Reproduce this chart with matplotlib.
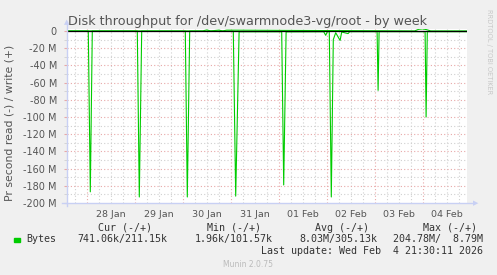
import numpy as np
import matplotlib
matplotlib.use("Agg")
import matplotlib.pyplot as plt
from matplotlib.ticker import MultipleLocator

# hours since 28 Jan 00:00, values in M bytes per second
read_hours = [-10, 0.8, 1.8, 2.8, 25.3, 26.3, 27.5, 49.3, 50.3, 51.5,
              73.3, 74.5, 76.2, 97.5, 98.5, 99.7, 118.5, 119.5, 120.3,
              121.3, 122.3, 123.3, 124.5, 126.7, 127.5, 130.7, 131.5,
              145.2, 145.7, 146.2, 169.2, 169.7, 170.3, 190]
read_values = [0.1, 0.1, 187, 0.1, 0.1, 193, 0.2, 0.2, 193, 0.2,
               0.2, 192, 0.9, 0.9, 179, 1.0, 0.9, 5, 0.8,
               0.8, 193, 10, 2, 11, 1.2, 3, 0.8,
               0.8, 69, 0.8, 0.8, 100, 0.8, 0.8]

write_hours = [-10, 58, 60, 62, 66, 68, 70, 164, 166, 168, 170, 172, 190]
write_values = [0.1, 0.1, 1.2, 0.1, 1.0, 0.1, 1.0, 0.1, 2.0, 2.5, 1.5, 0.1, 0.1]

day_labels = ["28 Jan", "29 Jan", "30 Jan", "31 Jan", "01 Feb", "02 Feb",
              "03 Feb", "04 Feb"]
y_ticks = [0, -20, -40, -60, -80, -100, -120, -140, -160, -180, -200]

title = "Disk throughput for /dev/swarmnode3-vg/root - by week"

W, H = 497, 275
fig = plt.figure(figsize=(W / 100, H / 100), dpi=100, facecolor="#f0f0f0")


def px(x, y):
    # pixel position -> figure fraction
    return x / W, 1 - y / H


ax_left, ax_right, ax_bottom = 66.7, 466.7, 203.0
ymin, ymax = -200, 2.8
ax_top = ax_bottom - (ymax - ymin) * 0.86
ax = fig.add_axes([ax_left / W, 1 - ax_bottom / H, (ax_right - ax_left) / W,
                   (ax_bottom - ax_top) / H])
ax.set_facecolor("white")
ax.set_xlim(-10, 190)
ax.set_ylim(ymin, ymax)
for s in ax.spines.values():
    s.set_visible(False)

# grid: grey every 6h / 10M, red every day / 20M
dot = (0, (1, 2))
for h in range(-6, 190, 6):
    col = "#e8a8a8" if h % 24 == 0 else "#d0d0d0"
    ax.axvline(h, color=col, lw=0.8, ls=dot, zorder=1)
for v in range(-190, 1, 10):
    col = "#e8a8a8" if v % 20 == 0 else "#d0d0d0"
    ax.axhline(v, color=col, lw=0.8, ls=dot, zorder=1)

# series
ax.plot(read_hours, -np.array(read_values), color="#00cc00", lw=0.8, zorder=3)
ax.plot(write_hours, write_values, color="#00cc00", lw=0.8, zorder=3)
ax.axhline(0, color="black", lw=0.9, zorder=4)

# ticks
ax.set_yticks(y_ticks)
ax.set_yticklabels(["0"] + [f"{v} M" for v in y_ticks[1:]])
ax.yaxis.set_minor_locator(MultipleLocator(10))
ax.set_xticks([12 + 24 * i for i in range(len(day_labels))])
ax.set_xticklabels(day_labels)
ax.tick_params(axis="y", which="major", length=2, color="#e8a8a8",
               labelsize=7, labelcolor="#555555", pad=5)
ax.tick_params(axis="y", which="minor", length=2, color="#d0d0d0")
ax.tick_params(axis="x", length=0, labelsize=6.8, labelcolor="#555555", pad=5)

# axis lines with arrows
axis_col = "#c8d0f4"
fig.add_artist(plt.Line2D([px(ax_left, 0)[0]] * 2, [px(0, ax_bottom + 3)[1], px(0, 22)[1]],
                          color=axis_col, lw=1))
fig.add_artist(plt.Line2D([px(62, 0)[0], px(474, 0)[0]], [px(0, ax_bottom)[1]] * 2,
                          color=axis_col, lw=1))
fig.text(*px(ax_left, 22), "\u25b2", color=axis_col, fontsize=5, ha="center", va="center")
fig.text(*px(476, ax_bottom), "\u25b6", color=axis_col, fontsize=5, ha="center", va="center")

# texts
fig.text(*px(248, 24.7), title, fontsize=9.2, color="#555555", ha="center", va="baseline")
fig.text(*px(10, 123), "Pr second read (-) / write (+)", fontsize=7.8, color="#555555",
         rotation=90, ha="center", va="center")
fig.text(*px(489, 52), "RRDTOOL / TOBI OETIKER", fontsize=4.8, color="#c8c8c8",
         rotation=270, ha="center", va="center")

mono = dict(family="DejaVu Sans Mono", fontsize=7.2, color="#333333", va="center")
fig.text(*px(98.3, 227.7), "Cur (-/+)", **mono)
fig.text(*px(206.7, 227.7), "Min (-/+)", **mono)
fig.text(*px(315, 227.7), "Avg (-/+)", **mono)
fig.text(*px(422.7, 227.7), "Max (-/+)", **mono)
fig.add_artist(plt.Rectangle(px(14, 242.3), 5.7 / W, 4.6 / H, color="#00cc00",
                             transform=fig.transFigure))
fig.text(*px(26.7, 239.3), "Bytes", **mono)
fig.text(*px(77.3, 239.3), "741.06k/211.15k", **mono)
fig.text(*px(194.3, 239.3), "1.96k/101.57k", **mono)
fig.text(*px(299.3, 239.3), "8.03M/305.13k", **mono)
fig.text(*px(392.7, 239.3), "204.78M/  8.79M", **mono)
fig.text(*px(482.7, 251), "Last update: Wed Feb  4 21:30:11 2026", ha="right", **mono)
fig.text(*px(248, 264.3), "Munin 2.0.75", fontsize=5.5, color="#bbbbbb",
         ha="center", va="center")

fig.savefig("out.png", dpi=100, facecolor=fig.get_facecolor())
